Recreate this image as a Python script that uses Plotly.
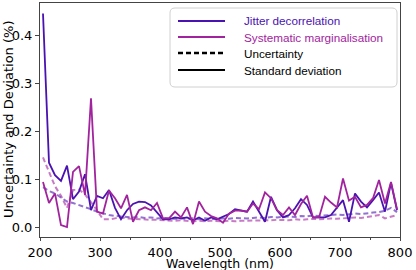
import plotly.graph_objects as go

# ---------------- data ----------------
wavelength = [205, 215, 225, 235, 245, 255, 265, 275, 285, 295,
              305, 315, 325, 335, 345, 355, 365, 375, 385, 395,
              405, 415, 425, 435, 445, 455, 465, 475, 485, 495,
              505, 515, 525, 535, 545, 555, 565, 575, 585, 595,
              605, 615, 625, 635, 645, 655, 665, 675, 685, 695,
              705, 715, 725, 735, 745, 755, 765, 775, 785, 795]

jitter_std = [0.445, 0.134, 0.108, 0.096, 0.128, 0.058, 0.074, 0.110, 0.035, 0.065,
              0.060, 0.077, 0.040, 0.016, 0.035, 0.048, 0.053, 0.052, 0.045, 0.030,
              0.016, 0.016, 0.020, 0.018, 0.020, 0.014, 0.020, 0.013, 0.020, 0.016,
              0.022, 0.027, 0.037, 0.034, 0.032, 0.053, 0.033, 0.011, 0.063, 0.035,
              0.020, 0.025, 0.039, 0.058, 0.046, 0.020, 0.020, 0.020, 0.025, 0.041,
              0.056, 0.011, 0.070, 0.053, 0.041, 0.056, 0.072, 0.032, 0.092, 0.035]

sys_std = [0.094, 0.050, 0.070, 0.004, 0.000, 0.115, 0.127, 0.067, 0.268, 0.032,
           0.028, 0.076, 0.060, 0.039, 0.067, 0.011, 0.035, 0.041, 0.035, 0.050,
           0.018, 0.018, 0.032, 0.020, 0.041, 0.006, 0.053, 0.032, 0.023, 0.018,
           0.009, 0.028, 0.034, 0.034, 0.032, 0.049, 0.037, 0.072, 0.060, 0.035,
           0.025, 0.041, 0.025, 0.048, 0.065, 0.020, 0.020, 0.063, 0.051, 0.041,
           0.101, 0.055, 0.063, 0.041, 0.046, 0.060, 0.098, 0.049, 0.094, 0.037]

jitter_unc = [0.083, 0.075, 0.070, 0.062, 0.053, 0.050, 0.046, 0.042, 0.037, 0.032,
              0.028, 0.025, 0.023, 0.022, 0.021, 0.020, 0.021, 0.019, 0.020, 0.018,
              0.019, 0.018, 0.017, 0.018, 0.017, 0.018, 0.016, 0.018, 0.017, 0.016,
              0.018, 0.017, 0.019, 0.018, 0.018, 0.019, 0.020, 0.019, 0.021, 0.020,
              0.021, 0.022, 0.021, 0.023, 0.022, 0.024, 0.023, 0.024, 0.025, 0.026,
              0.025, 0.027, 0.028, 0.027, 0.029, 0.030, 0.031, 0.034, 0.040, 0.031]

sys_unc = [0.145, 0.115, 0.085, 0.065, 0.040, 0.077, 0.078, 0.068, 0.052, 0.035,
           0.016, 0.016, 0.018, 0.020, 0.018, 0.017, 0.016, 0.016, 0.015, 0.015,
           0.014, 0.014, 0.013, 0.014, 0.013, 0.012, 0.013, 0.012, 0.013, 0.012,
           0.012, 0.013, 0.012, 0.013, 0.013, 0.014, 0.013, 0.014, 0.014, 0.015,
           0.015, 0.014, 0.016, 0.015, 0.016, 0.017, 0.016, 0.017, 0.018, 0.017,
           0.018, 0.019, 0.020, 0.019, 0.021, 0.022, 0.025, 0.018, 0.022, 0.025]

x_ticks = [200, 300, 400, 500, 600, 700, 800]
y_ticks = [0.0, 0.1, 0.2, 0.3, 0.4]
y_tick_labels = ["0.0", "0.1", "0.2", "0.3", "0.4"]

series_names = ["Jitter decorrelation", "Systematic marginalisation"]
style_names = ["Uncertainty", "Standard deviation"]
x_title = "Wavelength (nm)"
y_title = "Uncertainty and Deviation (%)"

# ---------------- style ----------------
BLUE = "#4a12b0"
MAG = "#a2239e"
BLUE_D = "rgba(74,18,176,0.6)"
MAG_D = "rgba(162,35,158,0.6)"
W, H = 416, 270
L, R, T, B = 40, 16, 3, 33
pw, ph = W - L - R, H - T - B


def px(x):
    return (x - L) / pw


def py(y):
    return (H - B - y) / ph


fig = go.Figure()
fig.add_trace(go.Scatter(x=wavelength, y=jitter_unc, mode="lines", name=series_names[0] + " uncertainty",
                         line=dict(color=BLUE_D, width=2, dash="5px,3px"), showlegend=False))
fig.add_trace(go.Scatter(x=wavelength, y=sys_unc, mode="lines", name=series_names[1] + " uncertainty",
                         line=dict(color=MAG_D, width=2, dash="5px,3px"), showlegend=False))
fig.add_trace(go.Scatter(x=wavelength, y=jitter_std, mode="lines", name=series_names[0],
                         line=dict(color=BLUE, width=1.8), showlegend=False))
fig.add_trace(go.Scatter(x=wavelength, y=sys_std, mode="lines", name=series_names[1],
                         line=dict(color=MAG, width=1.8), showlegend=False))

# ---------------- manual legend ----------------
x0, x1, y0, y1, r = 170, 397, 8, 87, 5
path = (f"M {px(x0+r)},{py(y0)} L {px(x1-r)},{py(y0)} "
        f"Q {px(x1)},{py(y0)} {px(x1)},{py(y0+r)} L {px(x1)},{py(y1-r)} "
        f"Q {px(x1)},{py(y1)} {px(x1-r)},{py(y1)} L {px(x0+r)},{py(y1)} "
        f"Q {px(x0)},{py(y1)} {px(x0)},{py(y1-r)} L {px(x0)},{py(y0+r)} "
        f"Q {px(x0)},{py(y0)} {px(x0+r)},{py(y0)} Z")
shapes = [dict(type="path", path=path, xref="paper", yref="paper",
               line=dict(color="#d0d0d0", width=1), fillcolor="rgba(255,255,255,0.85)")]
rows = [21, 37, 53, 70]
legend_items = [
    (series_names[0], BLUE, BLUE, "solid", 2),
    (series_names[1], MAG, MAG, "solid", 2),
    (style_names[0], "black", "black", "5px,3px", 2.5),
    (style_names[1], "black", "black", "solid", 2),
]
annotations = []
for (label, lc, tc, dash, lw), yy in zip(legend_items, rows):
    shapes.append(dict(type="line", xref="paper", yref="paper",
                       x0=px(178), x1=px(225), y0=py(yy), y1=py(yy),
                       line=dict(color=lc, width=lw, dash=dash)))
    annotations.append(dict(x=px(242), y=py(yy), xref="paper", yref="paper",
                            text=label, showarrow=False, xanchor="left", yanchor="middle",
                            font=dict(family="Liberation Sans, Arial, sans-serif", size=11.7, color=tc)))

title_font = dict(family="DejaVu Sans", size=12.5, color="black")
annotations.append(dict(x=px(220), y=py(263), xref="paper", yref="paper", text=x_title,
                        showarrow=False, xanchor="center", yanchor="middle", font=title_font))
annotations.append(dict(x=px(8), y=py(120), xref="paper", yref="paper", text=y_title,
                        showarrow=False, xanchor="center", yanchor="middle", textangle=-90,
                        font=dict(family="DejaVu Sans", size=13, color="black")))

axis_common = dict(showline=True, linecolor="#444", linewidth=1, mirror=True, automargin=False,
                   showgrid=False, zeroline=False, ticks="outside",
                   tickcolor="#444", tickfont=dict(family="DejaVu Sans", size=13, color="black"))

fig.update_layout(
    width=W, height=H,
    margin=dict(l=L, r=R, t=T, b=B),
    paper_bgcolor="white", plot_bgcolor="white",
    showlegend=False,
    shapes=shapes, annotations=annotations,
    xaxis=dict(range=[200, 800], tickvals=x_ticks, ticklabelstandoff=0, ticklen=3,
               minor=dict(tickvals=[250, 350, 450, 550, 650, 750], ticklen=2, tickcolor="#444", ticks="outside"),
               **axis_common),
    yaxis=dict(range=[-0.0208, 0.4667], tickvals=y_ticks, ticktext=y_tick_labels, ticklen=4,
               **axis_common),
)

fig.write_html("out.html", config={"displayModeBar": False},
               post_script="document.body.style.margin='0';document.body.style.overflow='hidden';")
